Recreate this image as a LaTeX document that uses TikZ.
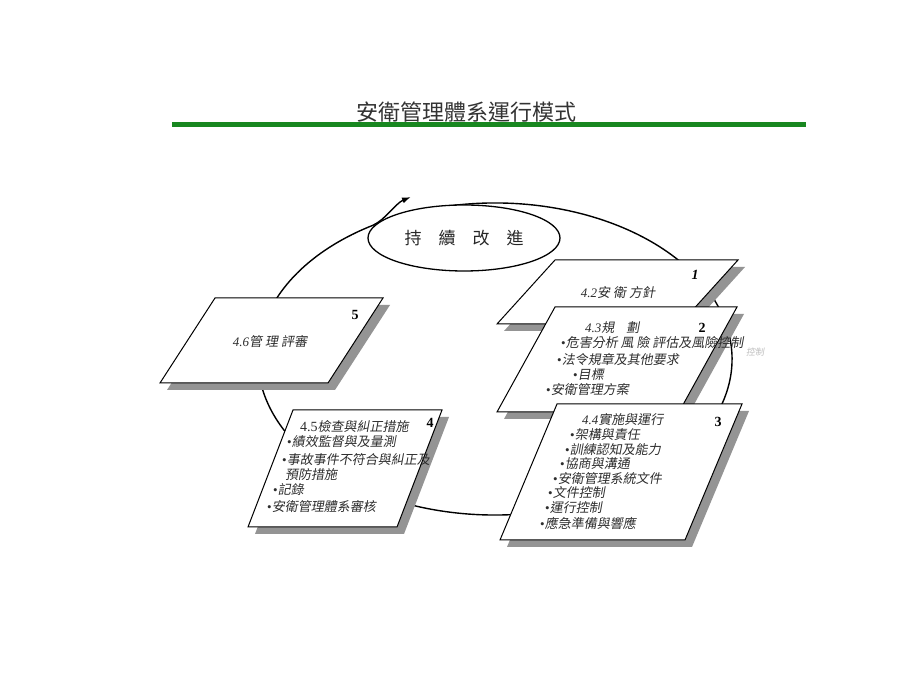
\documentclass[tikz,border=0pt]{standalone}
\usepackage{fontspec}
\setmainfont{Liberation Serif}
\newfontfamily\cjk{Noto Sans CJK TC}
\newfontfamily\cjki[FakeSlant=0.18]{Noto Sans CJK TC}
\usetikzlibrary{arrows.meta,shapes.geometric}
\definecolor{titlegreen}{RGB}{24,135,32}
\definecolor{txtgray}{RGB}{45,45,45}
\newcommand\nm[1]{{\rmfamily\itshape #1}}
\newcommand\bu{{\rmfamily\textbullet}}
% parallelogram with shadow: TLx, TRx, topY, BLx, BRx, botY
\newcommand\pgram[6]{%
  \fill[shadowfill] (#1+7,#3-7) -- (#2+7,#3-7) -- (#5+7,#6-7) -- (#4+7,#6-7) -- cycle;
  \draw[pbox] (#1,#3) -- (#2,#3) -- (#5,#6) -- (#4,#6) -- cycle;}
\begin{document}
\begin{tikzpicture}[x=1pt,y=1pt,
  pbox/.style={draw=black, fill=white, line width=1pt, line join=miter},
  shadowfill/.style={fill=black!42},
  cyc/.style={draw=black, line width=1.4pt},
  titletext/.style={font=\cjk\fontsize{22}{24}\selectfont, text=black!80, inner sep=0},
  ltxt/.style={anchor=west, inner sep=0, font=\cjki\fontsize{13}{14}\selectfont, text=txtgray},
  ctxt/.style={inner sep=0, font=\cjki\fontsize{13}{14}\selectfont, text=txtgray},
  numtxt/.style={inner sep=0, font=\rmfamily\bfseries\fontsize{14}{16}\selectfont}]
\useasboundingbox (0,0) rectangle (920,690);
\fill[white] (0,0) rectangle (920,690);
% title
\fill[titlegreen] (172,562.5) rectangle (806,567.5);
\node[titletext] (title) at (466,578) {安衛管理體系運行模式};
% cycle
\draw[cyc, -{Latex[length=9pt,width=6pt]}] (495,331) ++(105:237 and 156)
  arc[start angle=105, end angle=-239, x radius=237, y radius=156]
  .. controls (385,470) and (396,487) .. (411,493);
\node[ellipse, draw, line width=1.3pt, fill=white, minimum width=192, minimum height=66, inner sep=0,
  font=\cjk\fontsize{17}{19}\selectfont, text=black!85] (ci) at (464,452) {持\quad 續\quad 改\quad 進};
% box 1
\pgram{555}{738}{430}{497}{680}{366}
\node[ctxt] (b1) at (618,397) {\nm{4.2}安 衛 方針};
\node[numtxt, font=\rmfamily\bfseries\itshape\fontsize{14}{16}\selectfont] (n1) at (695,415) {1};
% box 2
\pgram{555}{737}{383}{497}{679}{278}
\node[ltxt] (b2a) at (585,362) {\nm{4.3}規\hspace{12pt}劃};
\node[numtxt] (n2) at (702,362) {2};
\node[ltxt] (b2b) at (561,347) {\bu 危害分析 風 險 評估及風險控制};
\node[ltxt, text=black!25, font=\cjki\fontsize{9}{10}\selectfont] (b2g) at (746,338) {控制};
\node[ltxt] (b2c) at (557,330) {\bu 法令規章及其他要求};
\node[ltxt] (b2d) at (573,315) {\bu 目標};
\node[ltxt] (b2e) at (546,300) {\bu 安衛管理方案};
% box 3
\pgram{557}{742}{286}{500}{685}{150}
\node[ltxt] (b3a) at (582,270) {\nm{4.4}實施與運行};
\node[numtxt] (n3) at (718,268) {3};
\node[ltxt] (b3b) at (570,255) {\bu 架構與責任};
\node[ltxt] (b3c) at (565,240) {\bu 訓練認知及能力};
\node[ltxt] (b3d) at (560,226) {\bu 協商與溝通};
\node[ltxt] (b3e) at (553,211) {\bu 安衛管理系統文件};
\node[ltxt] (b3f) at (548,197) {\bu 文件控制};
\node[ltxt] (b3g) at (545,182) {\bu 運行控制};
\node[ltxt] (b3h) at (540,167) {\bu 應急準備與響應};
% box 4
\pgram{293}{442}{280}{248}{397}{163}
\node[ltxt] (b4a) at (300,263) {{\rmfamily\fontsize{14}{16}\selectfont 4.5}檢查與糾正措施};
\node[numtxt] (n4) at (430,267) {4};
\node[ltxt] (b4b) at (287,248) {\bu 績效監督與及量測};
\node[ltxt] (b4c) at (282,230) {\bu 事故事件不符合與糾正及};
\node[ltxt] (b4d) at (285,215) {預防措施};
\node[ltxt] (b4e) at (273,200) {\bu 記錄};
\node[ltxt] (b4f) at (267,183) {\bu 安衛管理體系審核};
% box 5
\pgram{215}{383}{392}{160}{328}{307}
\node[ctxt] (b5) at (270,348) {\nm{4.6}管 理 評審};
\node[numtxt] (n5) at (355,375) {5};
\end{tikzpicture}
\end{document}
